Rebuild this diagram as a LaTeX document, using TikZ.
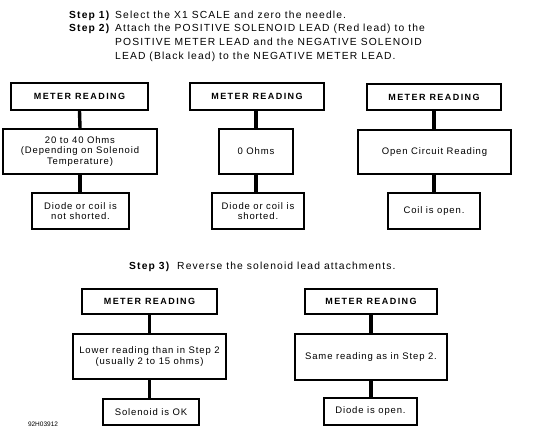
\documentclass[tikz,border=0pt]{standalone}
\usepackage{fontspec}
\setmainfont{Liberation Sans}
\newfontfamily\stepfont[LetterSpace=11]{Liberation Sans}
\newfontfamily\boxfont[LetterSpace=9]{Liberation Sans}
\newfontfamily\headfont[LetterSpace=16]{Liberation Sans}
\begin{document}
\begin{tikzpicture}[x=1pt,y=-1pt,
  stepline/.style={anchor=base west,inner sep=0pt,font=\stepfont\fontsize{10.3}{12}\selectfont},
  steplabel/.style={anchor=base west,inner sep=0pt,font=\stepfont\bfseries\fontsize{10.3}{12}\selectfont},
  hbox/.style={draw,line width=1.8pt,inner sep=0pt,align=center,font=\headfont\bfseries\fontsize{9}{11}\selectfont},
  rbox/.style={draw,line width=1.8pt,inner sep=0pt,align=center,font=\boxfont\fontsize{9.5}{10.3}\selectfont},
  conn/.style={line width=3.4pt}]
\useasboundingbox (0,0) rectangle (536,440);
% header text
\node[steplabel] (s1) at (69,18) {Step 1)};
\node[stepline] (t1) at (115,18) {Select the X1 SCALE and zero the needle.};
\node[steplabel] (s2) at (69,31.7) {Step 2)};
\node[stepline] (t2) at (115,31.7) {Attach the POSITIVE SOLENOID LEAD (Red lead) to the};
\node[stepline] (t3) at (115,45.4) {POSITIVE METER LEAD and the NEGATIVE SOLENOID};
\node[stepline] (t4) at (115,59.1) {LEAD (Black lead) to the NEGATIVE METER LEAD.};
% panel 1
\node[hbox,minimum width=137pt,minimum height=27pt] (h1) at (79.5,96.5) {METER READING};
\node[rbox,minimum width=154pt,minimum height=45pt] (m1) at (80,151.5) {20 to 40 Ohms\\(Depending on Solenoid\\Temperature)};
\node[rbox,minimum width=97pt,minimum height=36pt] (b1) at (80.5,211) {Diode or coil is\\not shorted.};
% panel 2
\node[hbox,minimum width=134pt,minimum height=27pt] (h2) at (257,96.5) {METER READING};
\node[rbox,minimum width=74pt,minimum height=45pt] (m2) at (256,151.5) {0 Ohms};
\node[rbox,minimum width=92pt,minimum height=36pt] (b2) at (258,211) {Diode or coil is\\shorted.};
% panel 3
\node[hbox,minimum width=134pt,minimum height=26pt] (h3) at (434,97) {METER READING};
\node[rbox,minimum width=153pt,minimum height=44pt] (m3) at (434.5,152) {Open Circuit Reading};
\node[rbox,minimum width=92pt,minimum height=36pt] (b3) at (434,211) {Coil is open.};
% step 3
\node[steplabel] (s3) at (129,269.5) {Step 3)};
\node[stepline] (t5) at (177,269.5) {Reverse the solenoid lead attachments.};
% panel 4
\node[hbox,minimum width=135pt,minimum height=25pt] (h4) at (149.5,301.5) {METER READING};
\node[rbox,minimum width=153pt,minimum height=45pt] (m4) at (149.5,356.5) {Lower reading than in Step 2\\(usually 2 to 15 ohms)};
\node[rbox,minimum width=96pt,minimum height=26pt] (b4) at (151,412) {Solenoid is OK};
% panel 5
\node[hbox,minimum width=132pt,minimum height=25pt] (h5) at (371,301.5) {METER READING};
\node[rbox,minimum width=152pt,minimum height=46pt] (m5) at (371,357) {Same reading as in Step 2.};
\node[rbox,minimum width=93pt,minimum height=27pt] (b5) at (370.5,411.5) {Diode is open.};
% figure id
\node[inner sep=0pt,font=\fontsize{6.5}{7}\selectfont] (id) at (43,424) {92H03912};
% connectors
\draw[conn] (h1.south) -- (m1.north);
\draw[conn] (m1.south) -- (b1.north -| m1.south);
\draw[conn] (h2.south -| m2.north) -- (m2.north);
\draw[conn] (m2.south) -- (b2.north -| m2.south);
\draw[conn] (h3.south) -- (m3.north -| h3.south);
\draw[conn] (m3.south -| h3.south) -- (b3.north);
\draw[conn] (h4.south) -- (m4.north);
\draw[conn] (m4.south) -- (b4.north -| m4.south);
\draw[conn] (h5.south) -- (m5.north);
\draw[conn] (m5.south) -- (b5.north -| m5.south);
\end{tikzpicture}
\end{document}
